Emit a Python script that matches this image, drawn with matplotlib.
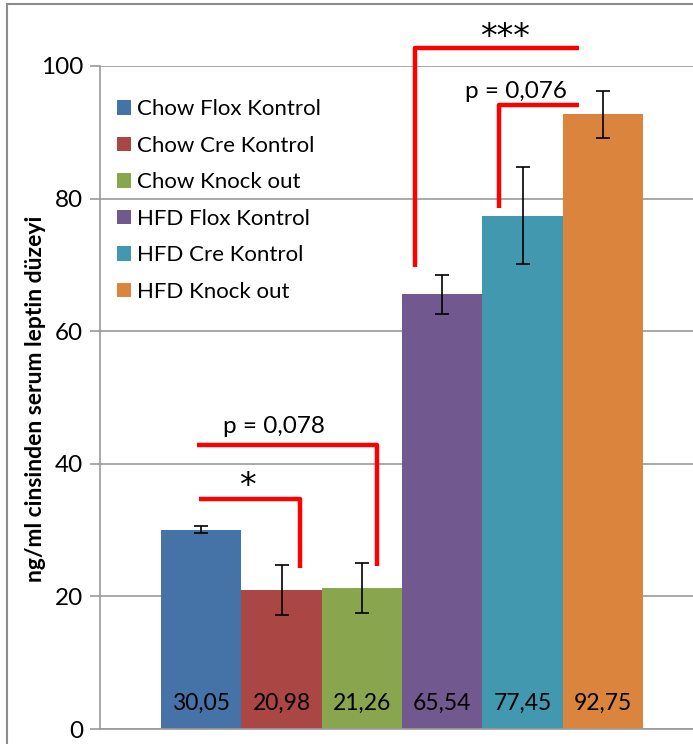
import matplotlib
matplotlib.use("Agg")
import matplotlib.pyplot as plt
from matplotlib.patches import Patch, Rectangle

# Data #
groups = ["Chow Flox Kontrol", "Chow Cre Kontrol", "Chow Knock out",
          "HFD Flox Kontrol", "HFD Cre Kontrol", "HFD Knock out"]
means = [30.05, 20.98, 21.26, 65.54, 77.45, 92.75]
errors = [0.55, 3.8, 3.8, 3.0, 7.25, 3.55]
value_labels = ["30,05", "20,98", "21,26", "65,54", "77,45", "92,75"]
y_ticks = [0, 20, 40, 60, 80, 100]
y_label = "ng/ml cinsinden serum leptin düzeyi"
sig_labels = ["*", "p = 0,078", "***", "p = 0,076"]

colors = ["#4572A7", "#AA4643", "#89A54E", "#71588F", "#4198AF", "#DB843D"]
grid_color = "#9a9a9a"

plt.rcParams["font.family"] = ["Lato", "DejaVu Sans"]

fig = plt.figure(figsize=(6.93, 7.44), dpi=100)
W, H = 693, 744
ax = fig.add_axes([100 / W, (H - 729) / H, (W - 100) / W, (729 - 66) / H])

xs = list(range(len(groups)))
ax.bar(xs, means, width=1.0, color=colors, zorder=2)
ax.errorbar(xs, means, yerr=errors, fmt="none", ecolor="black",
            elinewidth=1.2, capsize=5, capthick=1.2, zorder=3)

for x, lab in zip(xs, value_labels):
    ax.text(x, 3.9, lab, ha="center", va="center", fontsize=16.5, color="black", zorder=4)

ax.set_ylim(0, 100)
ax.set_xlim(-1.26, 6.12)
ax.set_yticks(y_ticks)
ax.set_xticks([])
ax.yaxis.grid(True, color=grid_color, linewidth=1.2, zorder=0)
ax.set_axisbelow(True)
ax.tick_params(axis="y", length=7, width=1.2, color=grid_color, labelsize=17.5, pad=5)
for side in ["top", "right"]:
    ax.spines[side].set_visible(False)
for side in ["left", "bottom"]:
    ax.spines[side].set_color(grid_color)
    ax.spines[side].set_linewidth(1.2)

fig.text(36 / W, 1 - 399 / H, y_label, rotation=90, ha="center", va="center",
         fontsize=16.5, fontweight="bold")

# Legend #
handles = [Patch(facecolor=c, edgecolor="none") for c in colors]
ax.legend(handles, groups, loc="upper left", bbox_to_anchor=(0.029, 0.950),
          frameon=False, fontsize=16, handlelength=0.63, handleheight=0.63,
          handletextpad=0.27, labelspacing=0.745, borderpad=0, borderaxespad=0)

# Significance brackets #
red = dict(color="#FF0000", linewidth=3.2, clip_on=False, zorder=5,
           solid_capstyle="butt")
star = dict(ha="center", va="center", fontsize=24, family="DejaVu Sans",
            clip_on=False)
# * : Chow Flox vs Chow Cre
ax.plot([-0.03, 1.23, 1.23], [34.7, 34.7, 24.3], **red)
ax.text(0.57, 36.6, sig_labels[0], **star)
# p = 0,078 : Chow Flox vs Chow Knock out
ax.plot([-0.05, 2.19, 2.19], [42.8, 42.8, 24.6], **red)
ax.text(0.9, 45.6, sig_labels[1], ha="center", va="center", fontsize=17.5)
# *** : HFD Flox vs HFD Knock out
ax.plot([4.70, 2.66, 2.66], [102.7, 102.7, 69.7], **red)
ax.text(3.78, 104.3, sig_labels[2], **star)
# p = 0,076 : HFD Cre vs HFD Knock out
ax.plot([4.70, 3.71, 3.71], [94.1, 94.1, 78.6], **red)
ax.text(3.92, 96.2, sig_labels[3], ha="center", va="center", fontsize=17.5)

# Chart area border #
fig.add_artist(Rectangle((7 / W, -0.1), 1.5, 1.1 - 4 / H, transform=fig.transFigure,
                         fill=False, edgecolor="#8c8c8c", linewidth=1.5))

fig.savefig("out.png", dpi=100)
